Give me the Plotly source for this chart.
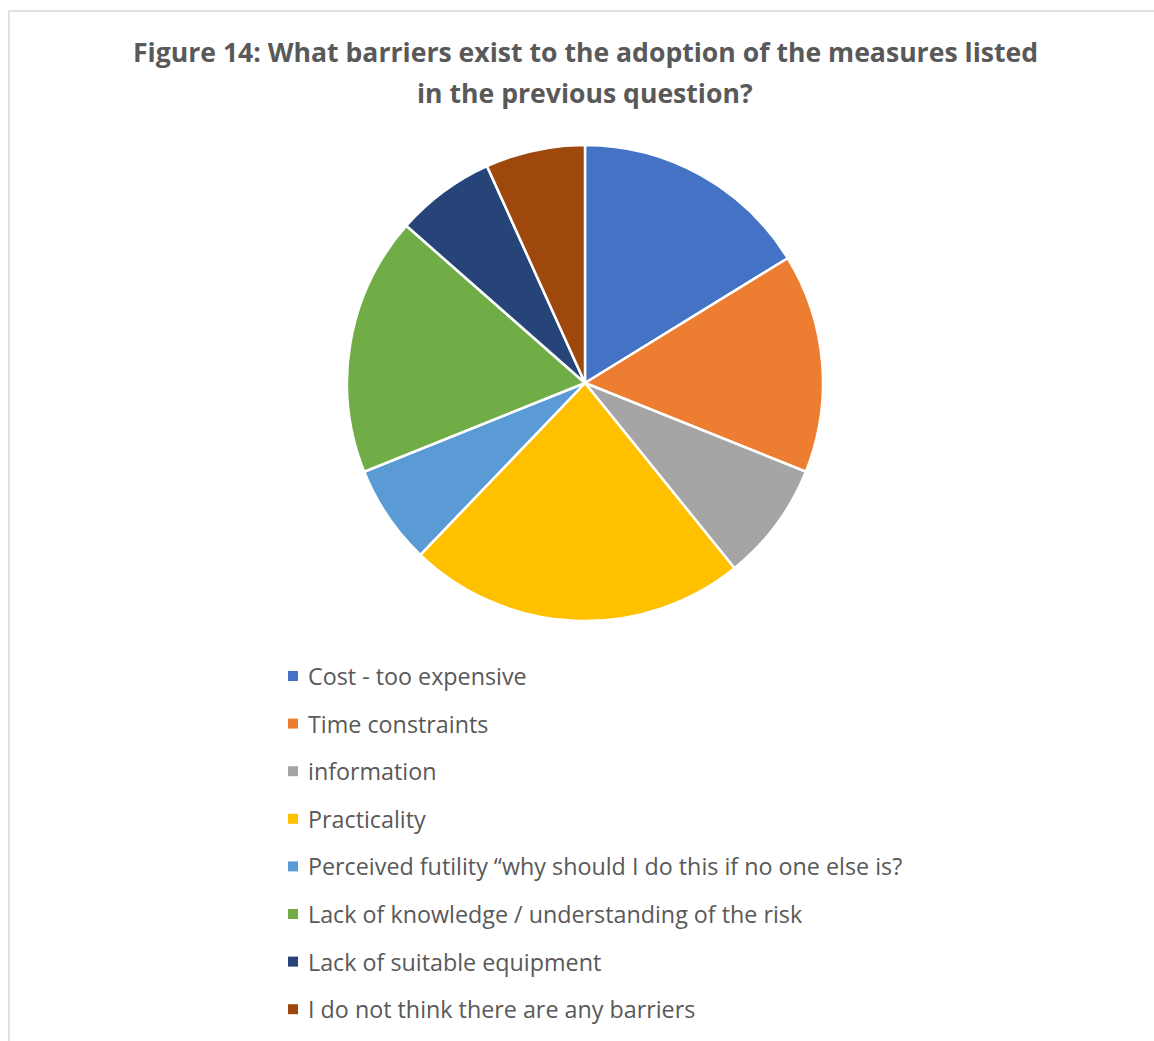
import plotly.graph_objects as go

W, H = 1154, 1041

labels = [
    "Cost - too expensive",
    "Time constraints",
    "information",
    "Practicality",
    "Perceived futility \u201cwhy should I do this if no one else is?",
    "Lack of knowledge / understanding of the risk",
    "Lack of suitable equipment",
    "I do not think there are any barriers",
]
values = [12, 11, 6, 17, 5, 13, 5, 5]
colors = ["#4472C4", "#ED7D31", "#A5A5A5", "#FFC000", "#5B9BD5", "#70AD47", "#264478", "#9E480E"]

title_lines = [
    "Figure 14: What barriers exist to the adoption of the measures listed",
    "in the previous question?",
]

FONT = "Open Sans"

def px_x(x):
    return x / W

def px_y(y):
    return 1 - y / H

fig = go.Figure()
fig.add_trace(go.Pie(
    labels=labels,
    values=values,
    sort=False,
    direction="clockwise",
    rotation=0,
    textinfo="none",
    marker=dict(colors=colors, line=dict(color="white", width=2.5)),
    domain=dict(x=[px_x(347), px_x(823)], y=[px_y(621), px_y(145)]),
    showlegend=False,
))

annotations = []
shapes = []
# title
for i, (line, yc) in enumerate(zip(title_lines, [52, 93])):
    annotations.append(dict(
        text="<b>" + line + "</b>", x=px_x(585), y=px_y(yc), xref="paper", yref="paper",
        xanchor="center", yanchor="middle", showarrow=False,
        font=dict(family=FONT, size=26.6, color="#595959"),
    ))

# manual legend
row0, step = 676, 47.6
for i, (lab, col) in enumerate(zip(labels, colors)):
    yc = row0 + i * step
    shapes.append(dict(type="rect", xref="paper", yref="paper",
                       x0=px_x(288), x1=px_x(298), y0=px_y(yc - 5), y1=px_y(yc + 5),
                       fillcolor=col, line=dict(width=0)))
    annotations.append(dict(
        text=lab, x=px_x(306), y=px_y(yc), xref="paper", yref="paper",
        xanchor="left", yanchor="middle", showarrow=False,
        font=dict(family=FONT, size=23.3, color="#595959"),
    ))

# chart border
shapes.append(dict(type="rect", xref="paper", yref="paper",
                   x0=px_x(9), x1=px_x(1160), y0=px_y(1050), y1=px_y(11),
                   line=dict(color="#D9D9D9", width=1.5), fillcolor="rgba(0,0,0,0)"))

fig.update_layout(
    width=W, height=H,
    margin=dict(l=0, r=0, t=0, b=0),
    paper_bgcolor="white",
    plot_bgcolor="white",
    annotations=annotations,
    shapes=shapes,
)

fig.write_html("out.html", config={"displayModeBar": False},
               post_script="document.body.style.margin='0';document.body.style.overflow='hidden';")
